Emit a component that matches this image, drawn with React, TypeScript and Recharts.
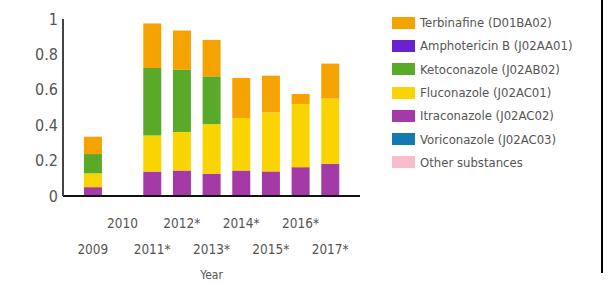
import { BarChart, Bar, XAxis, YAxis, Label } from 'recharts';

const years = ['2009', '2010', '2011*', '2012*', '2013*', '2014*', '2015*', '2016*', '2017*'];

// stacked segment sizes
const terbinafine = [0.098, 0, 0.252, 0.221, 0.206, 0.227, 0.208, 0.056, 0.198];
const amphotericin = [0, 0, 0, 0, 0, 0, 0, 0, 0];
const ketoconazole = [0.109, 0, 0.381, 0.353, 0.27, 0, 0, 0, 0];
const fluconazole = [0.078, 0, 0.204, 0.217, 0.28, 0.296, 0.333, 0.357, 0.368];
const itraconazole = [0.05, 0, 0.138, 0.144, 0.126, 0.144, 0.139, 0.163, 0.182];
const voriconazole = [0, 0, 0, 0, 0, 0, 0, 0, 0];
const otherSubstances = [0, 0, 0, 0, 0, 0, 0, 0, 0];

const yTicks = [0, 0.2, 0.4, 0.6, 0.8, 1];

const series = [
  { key: 'terb', name: 'Terbinafine (D01BA02)', color: '#F4A300', values: terbinafine },
  { key: 'ampho', name: 'Amphotericin B (J02AA01)', color: '#6A22D0', values: amphotericin },
  { key: 'keto', name: 'Ketoconazole (J02AB02)', color: '#5BA928', values: ketoconazole },
  { key: 'fluc', name: 'Fluconazole (J02AC01)', color: '#FAD400', values: fluconazole },
  { key: 'itra', name: 'Itraconazole (J02AC02)', color: '#A33AA6', values: itraconazole },
  { key: 'vori', name: 'Voriconazole (J02AC03)', color: '#1279B3', values: voriconazole },
  { key: 'other', name: 'Other substances', color: '#F8BDCC', values: otherSubstances },
];

const data = years.map((year, i) => {
  const row: Record<string, string | number> = { year };
  series.forEach(s => { row[s.key] = s.values[i]; });
  return row;
});

const FONT = '"DejaVu Sans Condensed", "DejaVu Sans", sans-serif';

// years alternate between two rows under the axis
const YearTick = (props: any) => {
  const { x, y, payload, index } = props;
  const upper = index % 2 === 1;
  return (
    <text x={x} y={y} dy={upper ? 32 : 58} textAnchor="middle" fill="#555" fontSize={13.5} fontFamily={FONT}>
      {payload.value}
    </text>
  );
};

export default function App() {
  return (
    <div style={{ position: 'absolute', left: 0, top: 0, width: 614, height: 283, background: '#fff', overflow: 'hidden' }}>
      <BarChart
        width={362}
        height={283}
        data={data}
        margin={{ top: 19, right: 2, left: 0, bottom: 0 }}
        barCategoryGap="20%"
      >
        <XAxis
          dataKey="year"
          height={87}
          interval={0}
          tickLine={false}
          tickSize={0}
          tickMargin={0}
          padding={{ left: 15, right: 15 }}
          axisLine={{ stroke: '#111', strokeWidth: 2 }}
          tick={<YearTick />}
        >
          <Label value="Year" position="insideBottom" offset={4} fill="#555" fontSize={12} fontFamily={FONT} />
        </XAxis>
        <YAxis
          width={63}
          domain={[0, 1]}
          ticks={yTicks}
          tickLine={false}
          tickSize={3}
          tickMargin={2}
          axisLine={{ stroke: '#444', strokeWidth: 2 }}
          tick={{ fill: '#555', fontSize: 16, fontFamily: FONT }}
        />
        {[...series].reverse().map(s => (
          <Bar key={s.key} dataKey={s.key} name={s.name} stackId="a" fill={s.color} isAnimationActive={false} />
        ))}
      </BarChart>

      <div style={{ position: 'absolute', left: 392, top: 11, fontFamily: FONT, fontSize: 13, color: '#555' }}>
        {series.map(s => (
          <div key={s.key} style={{ display: 'flex', alignItems: 'center', height: 23.3 }}>
            <div style={{ width: 23, height: 12, background: s.color, marginRight: 5 }} />
            <span>{s.name}</span>
          </div>
        ))}
      </div>

      <div style={{ position: 'absolute', left: 601, top: 0, width: 2, height: 273, background: '#000' }} />
    </div>
  );
}
